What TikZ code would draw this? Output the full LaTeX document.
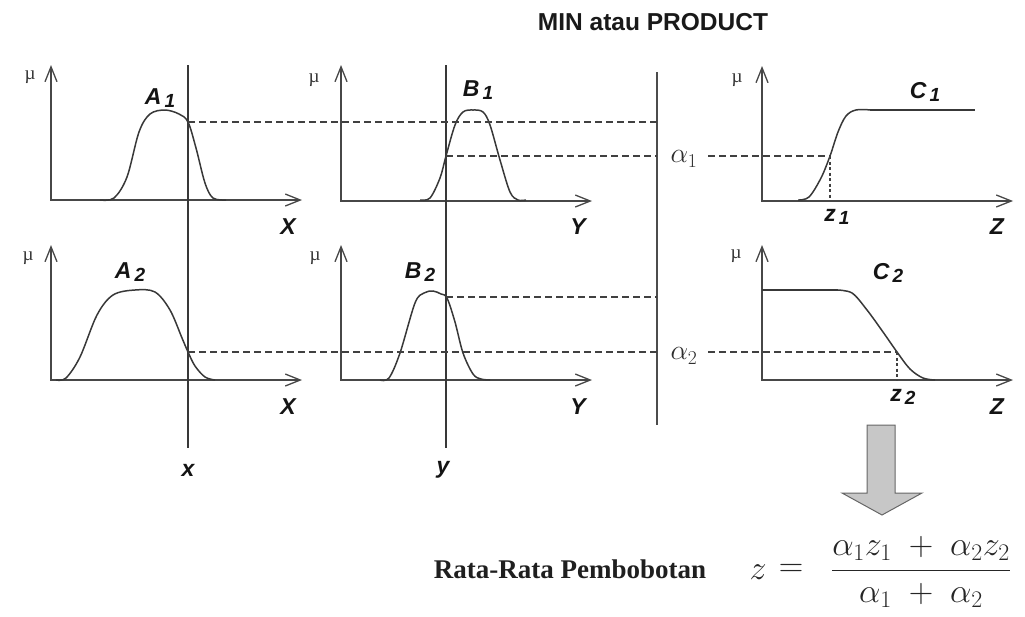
\RequirePackage{fix-cm}
\documentclass[tikz,border=0pt]{standalone}
\usepackage{amsmath}
\usepackage{fontspec}
\setmainfont{Liberation Sans}
\newfontfamily\muf{Liberation Serif}
\usetikzlibrary{arrows.meta}
\newcommand\sbx[1]{\kern3pt\raisebox{-3pt}{\fontsize{19}{19}\selectfont #1}}
\begin{document}
\begin{tikzpicture}[x=1pt,y=-1pt,
  axes/.style={draw=black!72, line width=1.8pt, line join=miter,
    {Straight Barb[length=15pt,width=12pt,line width=1.3pt]}-{Straight Barb[length=15pt,width=12pt,line width=1.3pt]}},
  curve/.style={draw=black!78, line width=1.5pt, smooth, tension=0.55},
  vline/.style={draw=black!78, line width=1.4pt},
  bigline/.style={draw=black!70, line width=2pt},
  dashln/.style={draw=black!75, line width=1.1pt, dash pattern=on 7pt off 4pt},
  dotln/.style={draw=black!75, line width=1.1pt, dash pattern=on 3pt off 2.5pt},
  lab/.style={font=\fontsize{23}{23}\selectfont\bfseries\itshape, text=black!92, inner sep=0pt},
  mul/.style={font=\muf\fontsize{19}{19}\selectfont, text=black!80, inner sep=0pt},
  alab/.style={font=\fontsize{28}{28}\selectfont, text=black!82, inner sep=0pt, fill=white},
  title/.style={font=\fontsize{24.5}{24.5}\selectfont\bfseries, text=black!90, inner sep=0pt},
  fml/.style={font=\fontsize{34}{34}\selectfont, text=black!85, inner sep=0pt}
]
\useasboundingbox (0,0) rectangle (1025,616);

% ---------- axes ----------
\draw[axes] (51,65) -- (51,200) -- (302,200);
\draw[axes] (341,65) -- (341,201) -- (592,201);
\draw[axes] (762,66) -- (762,201) -- (1013,201);
\draw[axes] (51,245) -- (51,380) -- (302,380);
\draw[axes] (341,245) -- (341,380) -- (592,380);
\draw[axes] (762,245) -- (762,380) -- (1013,380);

% ---------- membership curves ----------
\draw[curve] plot coordinates {(100,200) (114,198) (127,177) (139,132) (150,114) (165,110) (179,114) (188,122) (196,148) (205,183) (213,198) (226,200)};
\draw[curve] plot coordinates {(420,200) (430,198) (440,178) (446,156) (455,125) (463,112) (473,110) (483,112) (490,125) (500,160) (510,192) (518,200) (526,200)};
\draw[curve] plot coordinates {(798,200) (809,197) (821,178) (830,156) (838,132) (846,116) (856,110) (872,110)};
\draw[draw=black!78, line width=1.5pt] (870,110) -- (975,110);
\draw[curve] plot coordinates {(56,380) (66,378) (80,357) (97,315) (113,295) (135,290) (155,292) (170,310) (182,338) (188,352) (195,366) (205,377) (215,380)};
\draw[curve] plot coordinates {(380,380) (389,378) (400,353) (415,303) (424,293) (433,291) (441,294) (447,298) (455,322) (463,353) (473,374) (481,379) (490,380)};
\draw[draw=black!78, line width=1.5pt] (762,290) -- (838,290);
\draw[curve] plot coordinates {(836,290) (852,293) (867,310) (883,332) (897,352) (910,369) (923,378) (935,380)};

% ---------- vertical input lines ----------
\coordinate (xt) at (188,65); \coordinate (xb) at (188,448);
\coordinate (yt) at (446,65); \coordinate (yb) at (446,448);
\coordinate (mt) at (657,72); \coordinate (mb) at (657,425);
\draw[vline] (xt) -- (xb);
\draw[vline] (yt) -- (yb);
\draw[bigline] (mt) -- (mb);

% ---------- dashed projections ----------
\draw[dashln] (188,122) -- (657,122);
\draw[dashln] (446,156) -- (657,156);
\draw[dashln] (708,156) -- (830,156);
\draw[dotln] (830,156) -- (830,200);
\draw[dashln] (446,297) -- (657,297);
\draw[dashln] (188,352) -- (657,352);
\draw[dashln] (708,352) -- (897,352);
\draw[dotln] (897,352) -- (897,380);

% ---------- labels ----------
\node[title] (ttl) at (653,22) {MIN atau PRODUCT};
\node[mul] at (30,77) {µ};
\node[mul] at (314,80) {µ};
\node[mul] at (737,80) {µ};
\node[mul] at (28,258) {µ};
\node[mul] at (315,258) {µ};
\node[mul] at (736,256) {µ};

\node[lab] (A1) at (160,98) {A\sbx{1}};
\node[lab] (B1) at (478,90) {B\sbx{1}};
\node[lab] (C1) at (925,92) {C\sbx{1}};
\node[lab] (A2) at (130,272) {A\sbx{2}};
\node[lab] (B2) at (420,272) {B\sbx{2}};
\node[lab] (C2) at (888,273) {C\sbx{2}};

\node[lab] at (288,227) {X};
\node[lab] at (578,227) {Y};
\node[lab] at (997,227) {Z};
\node[lab] at (288,407) {X};
\node[lab] at (578,407) {Y};
\node[lab] at (997,407) {Z};
\node[lab] at (837,217) {z\sbx{1}};
\node[lab] at (903,397) {z\sbx{2}};
\node[lab] at (188,470) {x};
\node[lab] at (443,470) {y};

\node[alab] (a1) at (684,159) {$\alpha_1$};
\node[alab] (a2) at (684,356) {$\alpha_2$};

% ---------- block arrow ----------
\draw[draw=black!60, fill=black!22, line width=1pt]
  (867,425) -- (895,425) -- (895,493) -- (922,493) -- (882,515) -- (842,493) -- (867,493) -- cycle;

% ---------- result ----------
\node[font=\muf\fontsize{27}{27}\selectfont\bfseries, text=black!88, inner sep=0pt] (rr) at (570,569) {Rata-Rata Pembobotan};
\node[fml] (fz) at (758,572) {$z$};
\node[fml] (feq) at (791,570) {$=$};
\node[fml] (ffr) at (921,572)
  {$\dfrac{\alpha_1 z_1 \;+\; \alpha_2 z_2}{\alpha_1 \;+\; \alpha_2}$};
\end{tikzpicture}
\end{document}
